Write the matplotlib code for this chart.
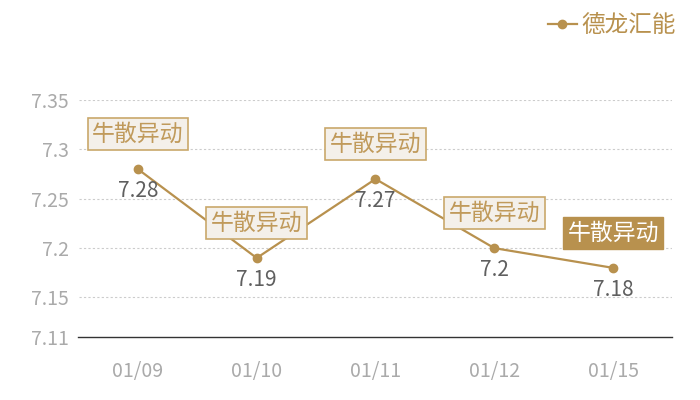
import matplotlib
matplotlib.use("Agg")
import matplotlib.pyplot as plt

plt.rcParams['font.family'] = ['Noto Sans CJK SC', 'DejaVu Sans']

dates = ["01/09", "01/10", "01/11", "01/12", "01/15"]
values = [7.28, 7.19, 7.27, 7.2, 7.18]
value_labels = ["7.28", "7.19", "7.27", "7.2", "7.18"]
tags = ["牛散异动", "牛散异动", "牛散异动", "牛散异动", "牛散异动"]
highlight = [False, False, False, False, True]
yticks = [7.11, 7.15, 7.2, 7.25, 7.3, 7.35]
ytick_labels = ["7.11", "7.15", "7.2", "7.25", "7.3", "7.35"]
series_name = "德龙汇能"

gold = "#b8914e"
fig = plt.figure(figsize=(7, 4), dpi=100)
ax = fig.add_axes([78.5/700, 1-337/400, 594/700, 237/400])

x = list(range(len(dates)))
ax.plot(x, values, color=gold, lw=1.6, marker='o', ms=6, label=series_name, zorder=3)
ax.set_xlim(-0.5, len(dates)-0.5)
ax.set_ylim(7.11, 7.35)
ax.set_yticks(yticks)
ax.set_yticklabels(ytick_labels)
ax.set_xticks(x)
ax.set_xticklabels(dates)
ax.tick_params(axis='both', length=0, colors="#aaaaaa", labelsize=14)
ax.tick_params(axis='x', pad=17)
ax.tick_params(axis='y', pad=7)
for sp in ['top', 'right', 'left']:
    ax.spines[sp].set_visible(False)
ax.spines['bottom'].set_color("#333333")
ax.spines['bottom'].set_linewidth(1)
for yt in yticks[1:]:
    ax.axhline(yt, color="#cccccc", lw=0.8, ls=(0, (2, 2)), zorder=1)

for xi, v, lab, tag, hl in zip(x, values, value_labels, tags, highlight):
    ax.annotate(lab, (xi, v), xytext=(0, -16), textcoords='offset points',
                ha='center', va='center', fontsize=15, color="#5f5f5f", zorder=4)
    if hl:
        bbox = dict(boxstyle='square,pad=0.2', fc=gold, ec=gold, lw=1)
        tc = "white"
    else:
        bbox = dict(boxstyle='square,pad=0.2', fc="#f4f0ea", ec="#c9a86b", lw=1.2)
        tc = "#c09a5b"
    ax.annotate(tag, (xi, v), xytext=(0, 25), textcoords='offset points',
                ha='center', va='center', fontsize=16.5, color=tc, bbox=bbox, zorder=5)

leg = ax.legend(loc='upper right', bbox_to_anchor=(690/700, 1.0), bbox_transform=fig.transFigure,
                frameon=False, fontsize=17, handlelength=1.2, handletextpad=0.2,
                labelcolor=gold, borderaxespad=0.2)

fig.savefig("out.png", dpi=100)
